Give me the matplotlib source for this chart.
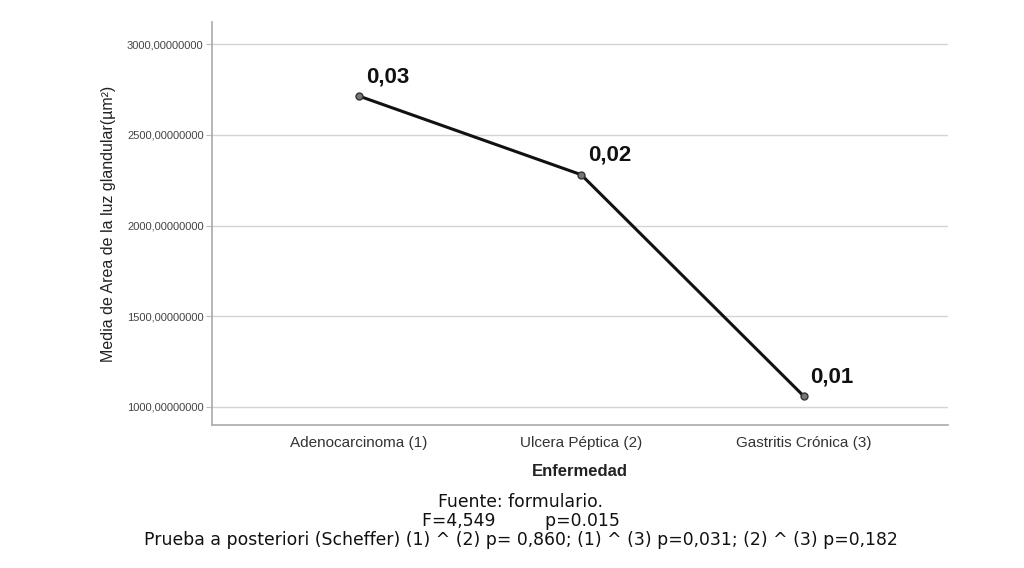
import matplotlib
matplotlib.use("Agg")
import matplotlib.pyplot as plt

categories = ["Adenocarcinoma (1)", "Ulcera Péptica (2)", "Gastritis Crónica (3)"]
means = [2714, 2280, 1060]
point_labels = ["0,03", "0,02", "0,01"]
yticks = [1000, 1500, 2000, 2500, 3000]
ytick_labels = ["1000,00000000", "1500,00000000", "2000,00000000", "2500,00000000", "3000,00000000"]
footer_lines = [
    "Fuente: formulario.",
    "F=4,549         p=0.015",
    "Prueba a posteriori (Scheffer) (1) ^ (2) p= 0,860; (1) ^ (3) p=0,031; (2) ^ (3) p=0,182",
]

plt.rcParams['font.family'] = ['Liberation Sans', 'DejaVu Sans']

fig = plt.figure(figsize=(10.24, 5.68), dpi=100)
ax = fig.add_axes([0.207, 0.252, 0.719, 0.709])

x = list(range(len(categories)))
ax.plot(x, means, color="#111111", lw=2.2, marker="o", markersize=5,
        markerfacecolor="#777777", markeredgecolor="#333333", markeredgewidth=1, zorder=3)
for xi, yi, lab in zip(x, means, point_labels):
    ax.annotate(lab, (xi, yi), xytext=(5, 14), textcoords="offset points",
                fontsize=16, fontweight="bold", color="#111111", ha="left", va="center")

ax.set_xlim(-0.66, 2.65)
ax.set_ylim(901, 3121)
ax.set_yticks(yticks)
ax.set_yticklabels(ytick_labels, fontsize=8, color="#444444")
ax.set_xticks(x)
ax.set_xticklabels(categories, fontsize=11, color="#333333")
ax.tick_params(axis="x", length=0, pad=8)
ax.tick_params(axis="y", length=4, color="#bbbbbb", pad=2)
ax.grid(axis="y", color="#d4d4d4", lw=1)
ax.set_axisbelow(True)
for s in ["top", "right"]:
    ax.spines[s].set_visible(False)
for s in ["left", "bottom"]:
    ax.spines[s].set_color("#aaaaaa")
    ax.spines[s].set_linewidth(1.2)

ax.set_ylabel("Media de Area de la luz glandular(µm²)", fontsize=11.5, color="#222222", labelpad=8)
ax.set_xlabel("Enfermedad", fontsize=12, fontweight="bold", color="#222222", labelpad=10)

ys = [502, 521, 540]
for line, yp in zip(footer_lines, ys):
    fig.text(521/1024, 1 - yp/568, line, ha="center", va="center", fontsize=12.4,
             family=["DejaVu Sans"], color="#111111")

fig.savefig("out.png", dpi=100)
